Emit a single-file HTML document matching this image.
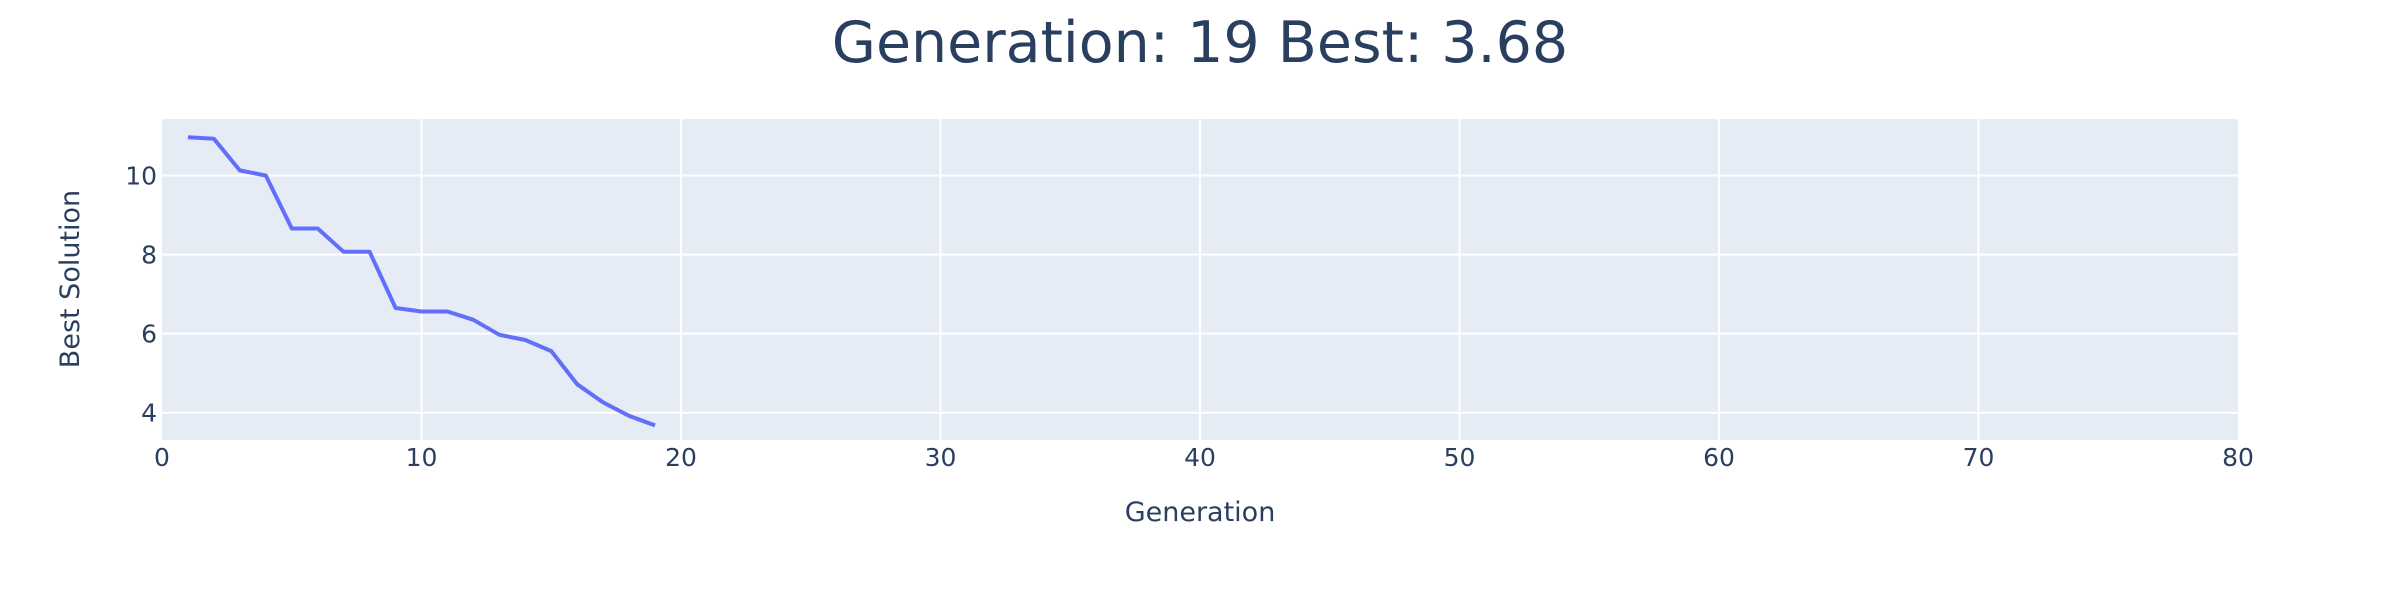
<!DOCTYPE html>
<html><head><meta charset="utf-8"><style>
html,body{margin:0;padding:0;background:#fff;}
svg{display:block;font-family:"DejaVu Sans","Liberation Sans",sans-serif;}
</style></head><body>
<svg id="chart" width="2400" height="600">
<text x="1200" y="62" text-anchor="middle" font-size="57" fill="#2a3f5f">Generation: 19 Best: 3.68</text>
<rect x="162" y="119" width="2076" height="321" fill="#e5ecf6"/>
<g id="grid"></g>
<g id="ticks"></g>
<clipPath id="clip"><rect x="162" y="119" width="2076" height="321"/></clipPath>
<path id="line" fill="none" stroke="#636efa" stroke-width="4" stroke-linejoin="round" clip-path="url(#clip)"/>
<text x="1200" y="521" text-anchor="middle" font-size="27" fill="#2a3f5f">Generation</text>
<text x="0" y="0" transform="translate(79,279) rotate(-90)" text-anchor="middle" font-size="27" fill="#2a3f5f">Best Solution</text>
</svg>
<script>
const generations = [1,2,3,4,5,6,7,8,9,10,11,12,13,14,15,16,17,18,19];
const bestValues = [10.97,10.93,10.13,10.0,8.66,8.66,8.07,8.07,6.65,6.56,6.56,6.35,5.97,5.84,5.56,4.72,4.26,3.92,3.68];
const xTicks = [0,10,20,30,40,50,60,70,80];
const yTicks = [4,6,8,10];
const X0=162,X1=2238,Y0=440,Y1=119, xMin=0,xMax=80,yMin=3.31,yMax=11.43;
const NS="http://www.w3.org/2000/svg";
function xs(v){return X0+(v-xMin)/(xMax-xMin)*(X1-X0);}
function ys(v){return Y0-(v-yMin)/(yMax-yMin)*(Y0-Y1);}
const grid=document.getElementById('grid'), ticks=document.getElementById('ticks');
xTicks.forEach(t=>{
  if(t>xMin&&t<xMax){
    const l=document.createElementNS(NS,'line');
    l.setAttribute('x1',xs(t));l.setAttribute('x2',xs(t));l.setAttribute('y1',Y1);l.setAttribute('y2',Y0);
    l.setAttribute('stroke','#fff');l.setAttribute('stroke-width','2');
    
    
    grid.appendChild(l);
  }
  const tx=document.createElementNS(NS,'text');
  tx.setAttribute('x',xs(t));tx.setAttribute('y',466);tx.setAttribute('text-anchor','middle');
  tx.setAttribute('font-size','25');tx.setAttribute('fill','#2a3f5f');tx.textContent=t;
  
  
  ticks.appendChild(tx);
});
yTicks.forEach(t=>{
  const l=document.createElementNS(NS,'line');
  l.setAttribute('x1',X0);l.setAttribute('x2',X1);l.setAttribute('y1',ys(t));l.setAttribute('y2',ys(t));
  l.setAttribute('stroke','#fff');l.setAttribute('stroke-width','2');
  
  
  grid.appendChild(l);
  const tx=document.createElementNS(NS,'text');
  tx.setAttribute('x',157);tx.setAttribute('y',ys(t)+9);tx.setAttribute('text-anchor','end');
  tx.setAttribute('font-size','25');tx.setAttribute('fill','#2a3f5f');tx.textContent=t;
  
  
  ticks.appendChild(tx);
});
document.getElementById('line').setAttribute('d',generations.map((g,i)=>(i?'L':'M')+xs(g).toFixed(1)+','+ys(bestValues[i]).toFixed(1)).join(''));
</script>
</body></html>
